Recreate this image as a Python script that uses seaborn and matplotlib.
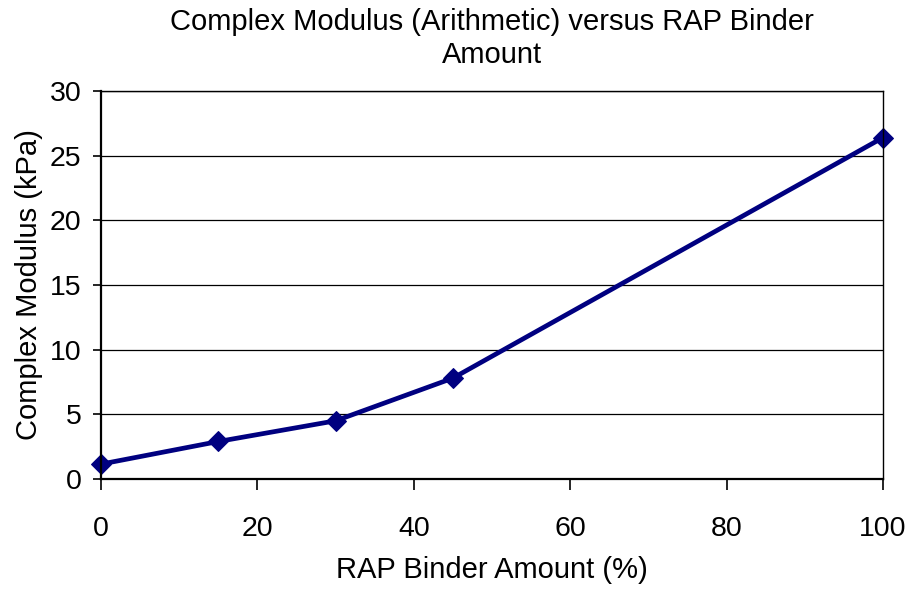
import matplotlib
matplotlib.use("Agg")
import matplotlib.pyplot as plt
import seaborn as sns
import pandas as pd

rap_amount = [0, 15, 30, 45, 100]
complex_modulus = [1.15, 2.9, 4.5, 7.8, 26.4]

sns.set_theme(style="white")
plt.rcParams['font.family'] = ['Liberation Sans', 'DejaVu Sans']
plt.rcParams['text.color'] = 'black'
plt.rcParams['axes.labelcolor'] = 'black'
plt.rcParams['xtick.color'] = 'black'
plt.rcParams['ytick.color'] = 'black'

df = pd.DataFrame({"x": rap_amount, "y": complex_modulus})

fig = plt.figure(figsize=(9.12, 5.9), dpi=100)
ax = fig.add_axes([101/912, 1 - 479/590, (883-101)/912, (479-91)/590])

sns.lineplot(data=df, x="x", y="y", ax=ax, color="#000080", linewidth=3.4,
             marker="D", markersize=10, markeredgecolor="#000080")

ax.set_xlim(0, 100)
ax.set_ylim(0, 30)
ax.set_xticks([0, 20, 40, 60, 80, 100])
ax.set_yticks([0, 5, 10, 15, 20, 25, 30])
ax.yaxis.grid(True, color="black", linewidth=0.9)
ax.set_axisbelow(True)
for s in ax.spines.values():
    s.set_color("black")
    s.set_linewidth(1.0)
ax.spines['left'].set_linewidth(1.6)
ax.spines['bottom'].set_linewidth(1.6)
ax.tick_params(axis='y', direction='out', length=6, width=1.2, color='black',
               labelsize=20.5, left=True, pad=8)
ax.tick_params(axis='x', direction='out', length=8, width=1.2, color='black',
               labelsize=20.5, bottom=True, pad=19)
ax.set_xlabel("RAP Binder Amount (%)", fontsize=21, labelpad=10)
ax.set_ylabel("Complex Modulus (kPa)", fontsize=21, labelpad=5)
ax.set_title("Complex Modulus (Arithmetic) versus RAP Binder\nAmount", fontsize=21,
             pad=20, linespacing=1.25)
for m in ax.lines:
    m.set_clip_on(False)

fig.savefig("out.png", dpi=100)
